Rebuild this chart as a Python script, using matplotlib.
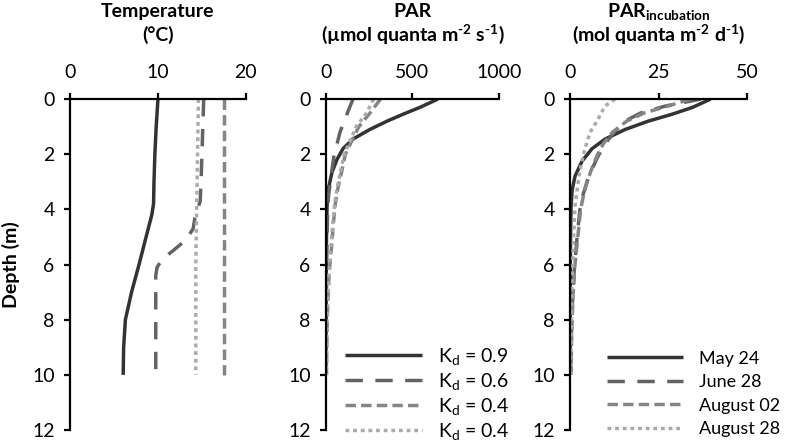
import matplotlib
matplotlib.use('Agg')
import matplotlib.pyplot as plt

plt.rcParams['font.family'] = ['Lato', 'DejaVu Sans']
plt.rcParams['font.size'] = 14
plt.rcParams['mathtext.fontset'] = 'custom'
plt.rcParams['mathtext.rm'] = 'Lato'
plt.rcParams['mathtext.bf'] = 'Lato:bold'
plt.rcParams['mathtext.it'] = 'Lato:italic'

# ------------------------------------------------------------
# DATA
# ------------------------------------------------------------
dates = ['May 24', 'June 28', 'August 02', 'August 28']
kd_labels = ['K$_\\mathrm{d}$ = 0.9', 'K$_\\mathrm{d}$ = 0.6',
             'K$_\\mathrm{d}$ = 0.4', 'K$_\\mathrm{d}$ = 0.4']

# temperature profiles (depth m, deg C)
temp_may_z = [0, 1, 2, 3, 3.8, 4.2, 5, 6, 7, 8, 9, 10]
temp_may_v = [10.0, 9.8, 9.65, 9.55, 9.5, 9.3, 8.65, 7.85, 7.0, 6.3, 6.1, 6.05]
temp_jun_z = [0, 1, 2, 3, 3.7, 4.3, 4.7, 5.1, 5.5, 5.8, 6.1, 6.4, 7, 8, 9, 10]
temp_jun_v = [15.2, 15.1, 15.0, 14.9, 14.8, 14.2, 14.0, 13.2, 11.7, 10.5, 9.9,
              9.75, 9.75, 9.75, 9.75, 9.75]
temp_aug02_z = [0, 2, 4, 6, 8, 10]
temp_aug02_v = [17.5, 17.5, 17.5, 17.5, 17.5, 17.5]
temp_aug28_z = [0, 2, 4, 6, 8, 10]
temp_aug28_v = [14.6, 14.5, 14.4, 14.3, 14.3, 14.3]

# PAR (umol quanta m-2 s-1)
par_may_z = [0, 0.3, 0.55, 0.8, 1.1, 1.45, 1.8, 2.2, 2.65, 3.3, 3.9, 5, 6, 8, 10]
par_may_v = [647, 543, 445, 353, 254, 156, 98, 63, 35, 12, 6, 3, 1.5, 0.5, 0.2]
par_jun_z = [0, 0.55, 1.2, 2.1, 3, 3.5, 4, 5, 6, 7, 8, 10]
par_jun_v = [156, 121, 81, 45, 25, 15, 10, 6, 4, 3, 2, 1]
par_aug02_z = [0, 0.5, 1, 1.5, 2, 2.6, 3.2, 3.8, 4.7, 5.2, 5.9, 6.5, 7.2, 7.9, 9, 10]
par_aug02_v = [315, 255, 190, 150, 112, 92, 70, 54, 40, 35, 24, 17, 12, 8, 5, 3]
par_aug28_z = [0, 0.5, 1, 1.5, 2, 2.6, 3.2, 3.8, 4.7, 5.2, 5.9, 6.5, 7.2, 7.9, 9, 10]
par_aug28_v = [275, 235, 175, 140, 105, 85, 65, 50, 37, 31, 22, 16, 11, 7, 4, 3]

# PAR incubation (mol quanta m-2 d-1)
inc_may_z = [0, 0.3, 0.55, 0.8, 1.1, 1.45, 1.8, 2.25, 2.8, 3.3, 3.9, 5, 6, 8, 10]
inc_may_v = [39.7, 34.6, 28.8, 22.1, 15.6, 9.9, 6.2, 3.4, 1.4, 0.6, 0.3, 0.15, 0.08, 0.03, 0.01]
inc_jun_z = [0, 0.25, 0.5, 0.8, 1.2, 1.6, 2.1, 2.6, 3, 3.5, 4, 5, 6, 7, 8, 9, 10]
inc_jun_v = [37, 27, 20, 15.5, 12.5, 10, 7.8, 6, 4.8, 3.6, 2.8, 2.0, 1.3, 0.8, 0.5, 0.3, 0.2]
inc_aug02_z = [0, 0.2, 0.5, 0.8, 1.2, 1.6, 2, 2.5, 3, 3.5, 4, 5, 6, 7, 8, 9, 10]
inc_aug02_v = [34, 29, 21, 16, 12, 9.5, 7.8, 6.2, 4.8, 3.8, 3.0, 2.2, 1.4, 0.9, 0.6, 0.4, 0.3]
inc_aug28_z = [0, 0.25, 0.8, 1.2, 1.55, 2.05, 2.6, 3.3, 3.9, 5, 6, 7, 8, 9, 10]
inc_aug28_v = [12.7, 9.9, 7.6, 5.7, 4.8, 3.7, 2.8, 2.0, 1.4, 1.0, 0.7, 0.5, 0.4, 0.3, 0.2]

# ------------------------------------------------------------
# STYLES
# ------------------------------------------------------------
LW = 2.5
HY = '\u2010'  # short hyphen for superscript exponents
styles = [
    dict(color='#333333', linestyle='-'),
    dict(color='#636363', linestyle=(0, (5.0, 3.6))),
    dict(color='#858585', linestyle=(0, (3.0, 1.5))),
    dict(color='#ababab', linestyle=(0, (1.1, 1.1))),
]

fig = plt.figure(figsize=(7.87, 4.43), dpi=100)
bottom, height = 0.0293, 0.747
ax1 = fig.add_axes([0.0889, bottom, 0.2236, height])
ax2 = fig.add_axes([0.4142, bottom, 0.2198, height])
ax3 = fig.add_axes([0.7243, bottom, 0.2249, height])

panels = [
    (ax1, [(temp_may_v, temp_may_z), (temp_jun_v, temp_jun_z),
           (temp_aug02_v, temp_aug02_z), (temp_aug28_v, temp_aug28_z)],
     [0, 10, 20], 'Temperature', '(°C)'),
    (ax2, [(par_may_v, par_may_z), (par_jun_v, par_jun_z),
           (par_aug02_v, par_aug02_z), (par_aug28_v, par_aug28_z)],
     [0, 500, 1000], 'PAR',
     '(µmol quanta m$\\mathbf{^{' + HY + '2}}$ s$\\mathbf{^{' + HY + '1}}$)'),
    (ax3, [(inc_may_v, inc_may_z), (inc_jun_v, inc_jun_z),
           (inc_aug02_v, inc_aug02_z), (inc_aug28_v, inc_aug28_z)],
     [0, 25, 50], 'PAR$\\mathbf{_{incubation}}$',
     '(mol quanta m$\\mathbf{^{' + HY + '2}}$ d$\\mathbf{^{' + HY + '1}}$)'),
]

all_lines = {}
for ax, series, xticks, title1, title2 in panels:
    lines = []
    for (v, z), st in zip(series, styles):
        ln, = ax.plot(v, z, lw=LW, dash_capstyle='butt', solid_capstyle='butt', **st)
        lines.append(ln)
    all_lines[ax] = lines
    ax.set_xlim(xticks[0], xticks[-1])
    ax.set_ylim(12, 0)
    ax.set_xticks(xticks)
    ax.set_yticks(range(0, 13, 2))
    ax.xaxis.tick_top()
    for s in ['right', 'bottom']:
        ax.spines[s].set_visible(False)
    for s in ['left', 'top']:
        ax.spines[s].set_linewidth(1.6)
    ax.tick_params(axis='x', direction='out', length=4, width=1.6, pad=9)
    ax.tick_params(axis='y', direction='out', length=4, width=1.6, pad=7)
    # two title lines, placed by baseline (figure pixels from top: 17 and 41)
    pos = ax.get_position()
    xc = pos.x0 + pos.width / 2
    fig.text(xc, 1 - 17 / 443, title1, ha='center', va='baseline', fontweight='bold')
    fig.text(xc, 1 - 41 / 443, title2, ha='center', va='baseline', fontweight='bold')

ax1.set_ylabel('Depth (m)', fontweight='bold', labelpad=9)

ax2.legend(all_lines[ax2], kd_labels, loc='lower left', bbox_to_anchor=(0.11, -0.035),
           frameon=False, handlelength=3.95, handletextpad=0.85, labelspacing=0.2,
           borderpad=0, borderaxespad=0)
ax3.legend(all_lines[ax3], dates, loc='lower left', bbox_to_anchor=(0.21, -0.022),
           frameon=False, fontsize=13, handlelength=4.2, handletextpad=0.9,
           labelspacing=0.42, borderpad=0, borderaxespad=0)

fig.savefig('out.png', dpi=100)
